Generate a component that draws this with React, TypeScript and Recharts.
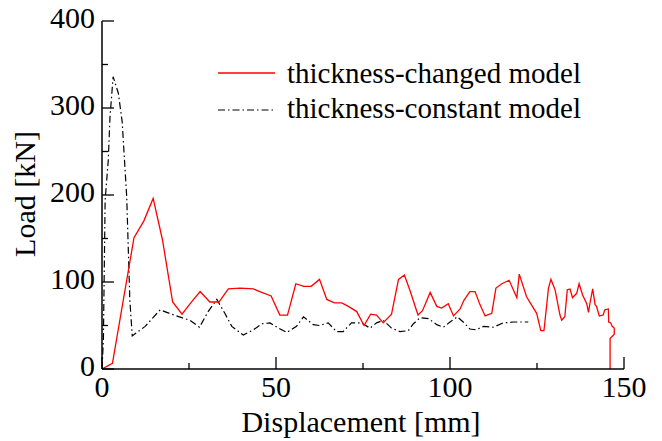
import React from "react";
import { LineChart, Line, XAxis, YAxis } from "recharts";

const changedModel = [
  { x: 0, y: 0 }, { x: 3, y: 6.5 }, { x: 9.2, y: 151 }, { x: 12, y: 170 }, { x: 14.7, y: 196 },
  { x: 17.4, y: 148 }, { x: 20.3, y: 77 }, { x: 23, y: 63 }, { x: 25.5, y: 76 }, { x: 28.2, y: 89 },
  { x: 31, y: 77 }, { x: 33.6, y: 77 }, { x: 36.3, y: 92 }, { x: 39.7, y: 93 }, { x: 43.5, y: 92 },
  { x: 45.9, y: 88 }, { x: 48.6, y: 84 }, { x: 51.1, y: 62 }, { x: 53.3, y: 62 }, { x: 55.7, y: 98 },
  { x: 58, y: 95 }, { x: 60.1, y: 95 }, { x: 62.5, y: 103 }, { x: 64.6, y: 80 }, { x: 66.8, y: 76 },
  { x: 68.9, y: 76 }, { x: 70.8, y: 72 }, { x: 73.2, y: 66 }, { x: 75.3, y: 50 }, { x: 77.2, y: 63 },
  { x: 78.9, y: 62 }, { x: 80.8, y: 53 }, { x: 83.2, y: 63 }, { x: 85.2, y: 103 }, { x: 86.9, y: 108 },
  { x: 88.6, y: 89 }, { x: 90.8, y: 62 }, { x: 92.1, y: 67 }, { x: 94.3, y: 88 }, { x: 96.2, y: 72 },
  { x: 97.6, y: 70 }, { x: 99.5, y: 75 }, { x: 101, y: 61 }, { x: 102.9, y: 69 }, { x: 104, y: 79 },
  { x: 105.7, y: 89 }, { x: 107.2, y: 89 }, { x: 108.6, y: 74 }, { x: 110.1, y: 61 }, { x: 112, y: 64 },
  { x: 113.2, y: 93 }, { x: 114.9, y: 98 }, { x: 117, y: 102 }, { x: 119.2, y: 82 }, { x: 119.9, y: 109 },
  { x: 122, y: 83 }, { x: 124.9, y: 64 }, { x: 126.1, y: 44 }, { x: 127, y: 44 }, { x: 128.3, y: 93 },
  { x: 129, y: 103 }, { x: 130.2, y: 91 }, { x: 131.6, y: 62 }, { x: 132.1, y: 56 }, { x: 133, y: 60 },
  { x: 133.7, y: 91 }, { x: 134.5, y: 92 }, { x: 135.2, y: 82 }, { x: 136.4, y: 87 }, { x: 137.1, y: 98 },
  { x: 138.1, y: 85 }, { x: 139.3, y: 75 }, { x: 139.8, y: 65 }, { x: 140.2, y: 75 }, { x: 141, y: 92 },
  { x: 141.7, y: 74 }, { x: 142.1, y: 72 }, { x: 142.9, y: 61 }, { x: 144, y: 62 }, { x: 144.5, y: 68 },
  { x: 145.5, y: 69 }, { x: 145.6, y: 54 }, { x: 146.2, y: 53 }, { x: 146.6, y: 49 }, { x: 147.2, y: 47 },
  { x: 147.2, y: 40 }, { x: 146, y: 35 }, { x: 146, y: 0 },
];

const constantModel = [
  { x: 0, y: 0 }, { x: 0.4, y: 33 }, { x: 0.9, y: 194 }, { x: 1.8, y: 240 }, { x: 2.3, y: 290 },
  { x: 3.2, y: 336 }, { x: 4.7, y: 317 }, { x: 5.8, y: 284 }, { x: 7.1, y: 198 }, { x: 8, y: 79 },
  { x: 8.7, y: 38 }, { x: 12.4, y: 49 }, { x: 16.7, y: 68 }, { x: 20, y: 63 }, { x: 22.9, y: 59 },
  { x: 25.3, y: 56 }, { x: 28, y: 48 }, { x: 30.5, y: 66 }, { x: 33, y: 80 }, { x: 35.3, y: 64 },
  { x: 37.3, y: 49 }, { x: 40.6, y: 39 }, { x: 43.5, y: 45 }, { x: 45.9, y: 52 }, { x: 48.3, y: 53 },
  { x: 50.7, y: 47 }, { x: 53.1, y: 42 }, { x: 55.9, y: 49 }, { x: 57.9, y: 60 }, { x: 60.7, y: 51 },
  { x: 62.5, y: 50 }, { x: 65, y: 53 }, { x: 67.4, y: 43 }, { x: 69.3, y: 43 }, { x: 71.7, y: 53 },
  { x: 74.6, y: 53 }, { x: 77, y: 47 }, { x: 78.9, y: 53 }, { x: 80.8, y: 56 }, { x: 83.2, y: 47 },
  { x: 85.6, y: 43 }, { x: 88, y: 44 }, { x: 89.5, y: 52 }, { x: 91.4, y: 59 }, { x: 93.8, y: 58 },
  { x: 96.2, y: 51 }, { x: 98.1, y: 48 }, { x: 100, y: 54 }, { x: 102.1, y: 60 }, { x: 103.8, y: 54 },
  { x: 105.7, y: 46 }, { x: 107.5, y: 45 }, { x: 109.6, y: 49 }, { x: 112.4, y: 48 }, { x: 115.3, y: 53 },
  { x: 118.2, y: 54 }, { x: 122.5, y: 54 },
];

const xTicks = [0, 25, 50, 75, 100, 125, 150];
const yTicks = [0, 50, 100, 150, 200, 250, 300, 350, 400];
const xTitle = "Displacement [mm]";
const yTitle = "Load [kN]";
const seriesNames = ["thickness-changed model", "thickness-constant model"];

const FONT = "Liberation Serif";
const FS = 30;
const LEG_FS = 29;
const DASH = "7 3 1.5 3";

const isXMajor = (v: number) => v % 50 === 0;
const isYMajor = (v: number) => v % 100 === 0;

const BottomTick = (p: any) => {
  const { x, y, payload } = p;
  const major = isXMajor(payload.value);
  return (
    <g>
      <line x1={x} x2={x} y1={y} y2={y - (major ? 12 : 6)} stroke="#000" strokeWidth={1.3} />
      {major && (
        <text x={x} y={y + 28} textAnchor="middle" fontFamily={FONT} fontSize={FS} fill="#000">
          {payload.value}
        </text>
      )}
    </g>
  );
};

const TopTick = (p: any) => {
  const { x, y, payload } = p;
  const major = isXMajor(payload.value);
  return <line x1={x} x2={x} y1={y} y2={y + (major ? 12 : 6)} stroke="#000" strokeWidth={1.3} />;
};

const LeftTick = (p: any) => {
  const { x, y, payload } = p;
  const major = isYMajor(payload.value);
  return (
    <g>
      <line x1={x} x2={x + (major ? 12 : 6)} y1={y} y2={y} stroke="#000" strokeWidth={1.3} />
      {major && (
        <text x={x - 7} y={y + 7} textAnchor="end" fontFamily={FONT} fontSize={FS} fill="#000">
          {payload.value}
        </text>
      )}
    </g>
  );
};

const RightTick = (p: any) => {
  const { x, y, payload } = p;
  const major = isYMajor(payload.value);
  return <line x1={x} x2={x - (major ? 12 : 6)} y1={y} y2={y} stroke="#000" strokeWidth={1.3} />;
};

const XTitle = (p: any) => {
  const vb = p.viewBox;
  return (
    <text x={vb.x + vb.width / 2 - 2} y={vb.y + 63} textAnchor="middle" fontFamily={FONT} fontSize={FS} fill="#000">
      {xTitle}
    </text>
  );
};

const YTitle = (p: any) => {
  const vb = p.viewBox;
  const cx = vb.x + 27;
  const cy = vb.y + vb.height / 2 - 1;
  return (
    <text x={cx} y={cy} transform={`rotate(-90 ${cx} ${cy})`} textAnchor="middle" fontFamily={FONT} fontSize={FS} fill="#000">
      {yTitle}
    </text>
  );
};

export default function App() {
  const W = 654;
  const H = 441;
  return (
    <div style={{ position: "relative", width: W, height: H, marginTop: -8, fontFamily: FONT }}>
      <LineChart
        width={W}
        height={H}
        margin={{ top: 21, right: 38, left: 0, bottom: 0 }}
        style={{ overflow: "visible", fontFamily: FONT }}
      >
        <XAxis
          dataKey="x"
          type="number"
          domain={[0, 150]}
          ticks={xTicks}
          interval={0}
          height={72}
          tickSize={0}
          tickMargin={0}
          tickLine={false}
          tick={<BottomTick />}
          axisLine={{ stroke: "#000", strokeWidth: 1.5 }}
          label={<XTitle />}
          allowDataOverflow
        />
        <XAxis
          xAxisId="top"
          orientation="top"
          dataKey="x"
          type="number"
          domain={[0, 150]}
          ticks={xTicks}
          interval={0}
          height={0}
          tickSize={0}
          tickMargin={0}
          tickLine={false}
          tick={<TopTick />}
          axisLine={{ stroke: "#000", strokeWidth: 1.5 }}
          allowDataOverflow
        />
        <YAxis
          type="number"
          domain={[0, 400]}
          ticks={yTicks}
          interval={0}
          width={94}
          tickSize={0}
          tickMargin={0}
          tickLine={false}
          tick={<LeftTick />}
          axisLine={{ stroke: "#000", strokeWidth: 1.5 }}
          label={<YTitle />}
          allowDataOverflow
        />
        <YAxis
          yAxisId="right"
          orientation="right"
          type="number"
          domain={[0, 400]}
          ticks={yTicks}
          interval={0}
          width={0}
          tickSize={0}
          tickMargin={0}
          tickLine={false}
          tick={<RightTick />}
          axisLine={{ stroke: "#000", strokeWidth: 1.5 }}
          allowDataOverflow
        />
        <Line
          data={constantModel}
          dataKey="y"
          type="linear"
          stroke="#000"
          strokeWidth={1.2}
          strokeDasharray={DASH}
          dot={false}
          isAnimationActive={false}
        />
        <Line
          data={changedModel}
          dataKey="y"
          type="linear"
          stroke="#ff0000"
          strokeWidth={1.3}
          dot={false}
          isAnimationActive={false}
        />
      </LineChart>
      <svg
        width={W}
        height={H}
        style={{ position: "absolute", left: 0, top: 0, pointerEvents: "none" }}
      >
        <line x1={210} x2={267} y1={73} y2={73} stroke="#ff0000" strokeWidth={1.3} />
        <text x={279} y={83} fontFamily={FONT} fontSize={LEG_FS} fill="#000">
          {seriesNames[0]}
        </text>
        <line x1={210} x2={267} y1={110} y2={110} stroke="#000" strokeWidth={1.2} strokeDasharray={DASH} />
        <text x={279} y={118} fontFamily={FONT} fontSize={LEG_FS} fill="#000">
          {seriesNames[1]}
        </text>
      </svg>
    </div>
  );
}
